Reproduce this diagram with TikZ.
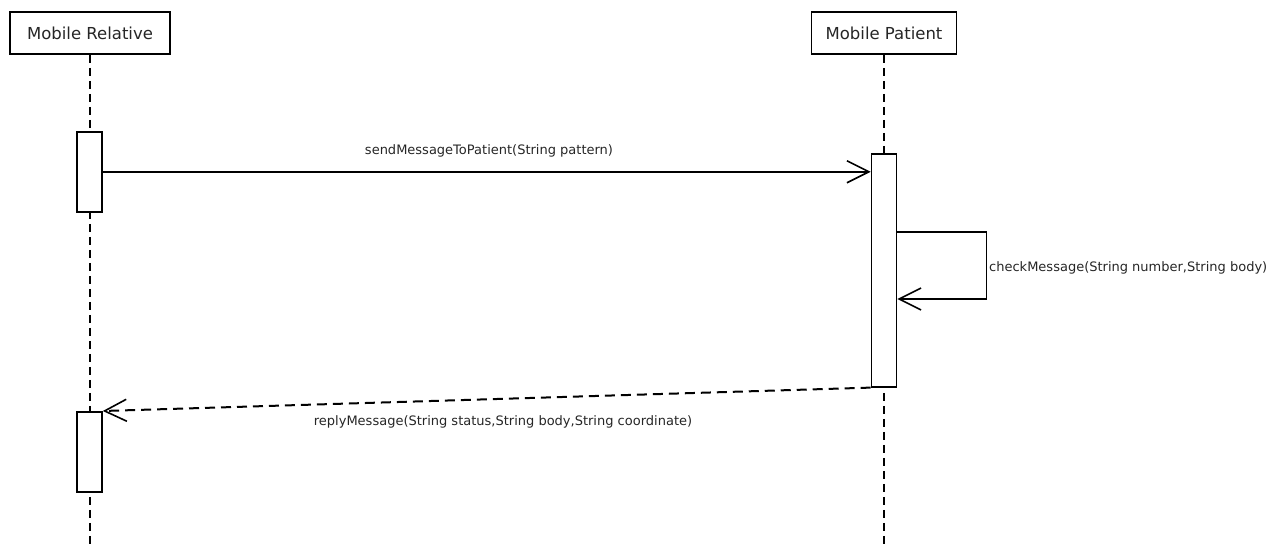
\documentclass[tikz,border=0pt]{standalone}
\usepackage{fontspec}
\setmainfont{DejaVu Sans}
\usetikzlibrary{arrows.meta,calc}
\tikzset{
  actor/.style={draw,line width=1.6pt,fill=white,minimum width=#1,minimum height=42pt,
    inner sep=0pt,text=black!85,font=\fontsize{16.5}{19}\selectfont},
  actbox/.style={draw,line width=1.6pt,fill=white,minimum width=25pt,minimum height=#1,
    inner sep=0pt,anchor=north},
  lifeline/.style={line width=1.6pt,dash pattern=on 8pt off 5pt},
  msg/.style={line width=1.6pt,-{Straight Barb[length=22pt,width=22pt,line width=1.6pt]}},
  reply/.style={msg,line width=2pt,dash pattern=on 10pt off 6pt},
  lbl/.style={font=\fontsize{13}{15}\selectfont,text=black!85,inner sep=0pt}
}
\begin{document}
\begin{tikzpicture}[x=1pt,y=-1pt]
\useasboundingbox (0,0) rectangle (1288,544);

% participants
\node[actor=160pt] (rel) at (90,33) {Mobile Relative};
\node[actor=145pt] (pat) at (884,33) {Mobile Patient};
\coordinate (relEnd) at (90,544);
\coordinate (patEnd) at (884,544);

% lifelines
\draw[lifeline] (rel.south) -- (relEnd);
\draw[lifeline] (pat.south) -- (patEnd);

% activations
\node[actbox=80pt] (a1) at (89.5,131) {};
\node[actbox=233pt] (p1) at (884,153) {};
\node[actbox=80pt] (a2) at (89.5,411) {};

% sendMessageToPatient
\draw[msg] (a1.east) -- (a1.east -| p1.west);
\node[lbl] (l1) at (489,151) {sendMessageToPatient(String pattern)};

% checkMessage (self call)
\coordinate (s1) at ($(p1.north east)+(0,79)$);
\coordinate (s2) at ($(p1.north east)+(89,79)$);
\coordinate (s3) at ($(p1.north east)+(89,146)$);
\coordinate (s4) at ($(p1.north east)+(0,146)$);
\draw[msg] (s1) -- (s2) -- (s3) -- (s4);
\node[lbl,anchor=west] (l2) at (989,268) {checkMessage(String number,String body)};

% replyMessage
\draw[reply] (p1.south west) -- (a2.north east);
\node[lbl] (l3) at (503,422) {replyMessage(String status,String body,String coordinate)};
\end{tikzpicture}
\end{document}
